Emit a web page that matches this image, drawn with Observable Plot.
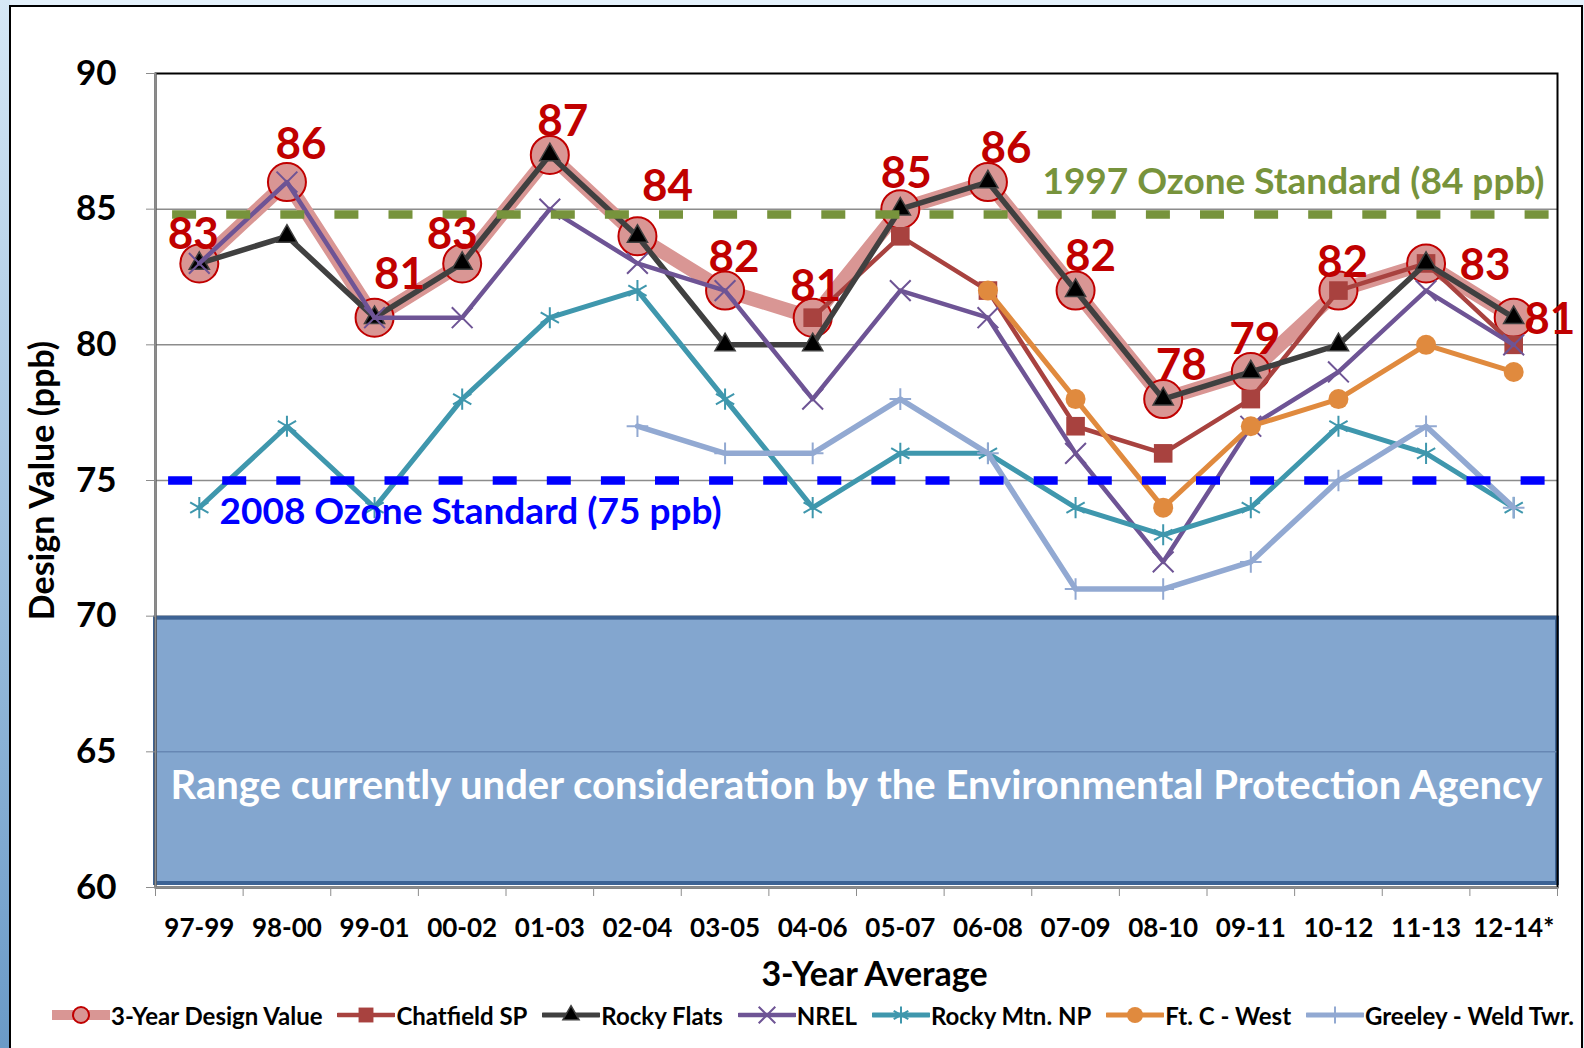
<!DOCTYPE html>
<html>
<head>
<meta charset="utf-8">
<script src="https://cdn.jsdelivr.net/npm/d3@7"></script>
<script src="https://cdn.jsdelivr.net/npm/@observablehq/plot@0.6"></script>
<style>
  html, body { margin: 0; padding: 0; }
  body { width: 1584px; height: 1048px; overflow: hidden; position: relative; background: #e4f1fb; font-family: Lato, "Open Sans", sans-serif; }
  #strip { position: absolute; left: 0; top: 0; width: 10px; height: 1048px; background: linear-gradient(#d6e8f6, #6a9ac7); }
  #panel { position: absolute; left: 9px; top: 5px; width: 1570px; height: 1100px; border: 2px solid #000; background: #fff; }
  #chart { position: absolute; left: 0; top: 0; }
  #legend { position: absolute; left: 52px; width: 1522px; top: 1002px; height: 26px; display: flex; justify-content: space-between; align-items: center; font-weight: bold; font-size: 24px; color: #000; white-space: nowrap; }
  #legend .item { display: flex; align-items: center; }
  #legend svg { display: block; margin-right: 1px; }
</style>
</head>
<body>
<div id="strip"></div>
<div id="panel"></div>
<div id="chart"></div>
<div id="legend"></div>
<script>
// ---- data ----
const categories = ["97-99","98-00","99-01","00-02","01-03","02-04","03-05","04-06","05-07","06-08","07-09","08-10","09-11","10-12","11-13","12-14*"];
const designValue = [83,86,81,83,87,84,82,81,85,86,82,78,79,82,83,81];
const chatfield   = [null,null,null,null,null,null,null,81,84,82,77,76,78,82,83,80];
const rockyFlats  = [83,84,81,83,87,84,80,80,85,86,82,78,79,80,83,81];
const nrel        = [83,86,81,81,85,83,82,78,82,81,76,72,77,79,82,80];
const rockyMtnNP  = [74,77,74,78,81,82,78,74,76,76,74,73,74,77,76,74];
const ftcWest     = [null,null,null,null,null,null,null,null,null,82,78,74,77,78,80,79];
const greeley     = [null,null,null,null,null,77,76,76,78,76,71,71,72,75,77,74];
const seriesNames = ["3-Year Design Value","Chatfield SP","Rocky Flats","NREL","Rocky Mtn. NP","Ft. C - West","Greeley - Weld Twr."];
const yTicks = [60,65,70,75,80,85,90];
const epaRange = [60,70];
const epaLabel = "Range currently under consideration by the Environmental Protection Agency";
const standardValues = [84.8, 75];
const standardLabels = ["1997 Ozone Standard (84 ppb)", "2008 Ozone Standard (75 ppb)"];
const xTitle = "3-Year Average";
const yTitle = "Design Value (ppb)";

// ---- styles ----
const styles = [
  {color:"#d99694", width:14, symbol:"circle",   r:19,  fill:"#d99694", stroke:"#c00000", sw:2},
  {color:"#a8423f", width:4.5, symbol:"square",  r:10.5, fill:"#a8423f", stroke:"#a8423f", sw:0},
  {color:"#404040", width:5.5, symbol:"triangle", r:7.5, fill:"#000",    stroke:"#404040", sw:1.5},
  {color:"#6e5495", width:4.5, symbol:"times",    r:9.5, fill:"none",    stroke:"#6e5495", sw:2},
  {color:"#3f97ad", width:5,   symbol:"asterisk", r:10,  fill:"none",    stroke:"#3f97ad", sw:2},
  {color:"#e08a3e", width:5,   symbol:"circle",   r:10,  fill:"#e08a3e", stroke:"#e08a3e", sw:0},
  {color:"#92a9d2", width:5.5, symbol:"plus",     r:7,   fill:"none",    stroke:"#92a9d2", sw:2}
];
const seriesValues = [designValue, chatfield, rockyFlats, nrel, rockyMtnNP, ftcWest, greeley];
const labelOffsets = [[-6,-29],[14,-37],[25,-43],[-10,-29],[13,-33],[30,-49],[9,-33],[3,-31],[6,-35],[18,-33],[15,-34],[18,-33],[4,-32],[4,-28],[59,2],[36,2]];

const xDomain = [-0.5, categories.length - 0.5];
const seriesData = seriesValues.map((vals, k) =>
  vals.map((v, i) => ({i, v, k})).filter(d => d.v != null));

const seriesMarks = seriesData.flatMap((data, k) => {
  const s = styles[k];
  return [
    Plot.line(data, {x: "i", y: "v", stroke: s.color, strokeWidth: s.width, strokeLinejoin: "round", strokeLinecap: "round"}),
    Plot.dot(data, {x: "i", y: "v", symbol: s.symbol, r: s.r, fill: s.fill, stroke: s.stroke, strokeWidth: s.sw})
  ];
});

const gray = "#8c8c8c";
const standardColors = ["#77933c", "#0000ff"];
const dashOffsets = [37, 41];

const chart = Plot.plot({
  width: 1584,
  height: 1000,
  marginLeft: 155,
  marginRight: 27,
  marginTop: 73,
  marginBottom: 113,
  x: {domain: xDomain},
  y: {domain: [yTicks[0], yTicks[yTicks.length - 1]]},
  style: {fontFamily: "Lato, 'Open Sans', sans-serif", background: "transparent", overflow: "visible"},
  marks: [
    Plot.ruleY(yTicks.slice(1, -1), {stroke: gray, strokeWidth: 1.5}),
    Plot.rect([epaRange], {x1: xDomain[0], x2: xDomain[1], y1: d => d[0], y2: d => d[1], fill: "#83a6cf", stroke: "#3d6394", strokeWidth: 4, insetBottom: 4, insetTop: 2}),
    Plot.ruleY([yTicks[1]], {stroke: "#6787b4", strokeWidth: 1.5}),
    Plot.frame({stroke: "#000", strokeWidth: 2}),
    Plot.ruleX([xDomain[0]], {stroke: gray, strokeWidth: 2}),
    Plot.ruleY([yTicks[0]], {stroke: gray, strokeWidth: 2}),
    Plot.axisY({ticks: yTicks, tickSize: 9, tickPadding: 30, fontSize: 35, fontWeight: "bold", stroke: gray, fill: "#000", label: null}),
    Plot.axisX({ticks: d3.range(categories.length + 1).map(i => i - 0.5), tickSize: 9, tickFormat: () => "", stroke: gray, label: null}),
    Plot.axisX({ticks: d3.range(categories.length), tickFormat: i => categories[i], tickSize: 0, tickPadding: 31, fontSize: 26, fontWeight: "bold", fill: "#000", label: null}),
    Plot.text([epaLabel], {y: (epaRange[0] + epaRange[1]) / 2, dy: 34, fill: "#fff", fontSize: 40, fontWeight: "bold"}),
    ...seriesMarks,
    ...standardValues.map((v, j) => Plot.ruleY([v], {stroke: standardColors[j], strokeWidth: 8.5, strokeDasharray: "24,30.1", strokeDashoffset: dashOffsets[j]})),
    Plot.text([standardLabels[0]], {x: xDomain[1], y: standardValues[0], dx: -13, dy: -32, textAnchor: "end", fill: standardColors[0], fontSize: 37, fontWeight: "bold"}),
    Plot.text([standardLabels[1]], {x: xDomain[0], y: standardValues[1], dx: 64, dy: 32, textAnchor: "start", fill: standardColors[1], fontSize: 37, fontWeight: "bold"}),
    ...designValue.map((v, i) => Plot.text([v], {x: i, y: v, text: d => String(d), dx: labelOffsets[i][0], dy: labelOffsets[i][1], fill: "#c00000", fontSize: 44, fontWeight: "bold"})),
    Plot.text([xTitle], {frameAnchor: "bottom", textAnchor: "middle", dx: 18, dy: 98, fontSize: 34, fontWeight: "bold", fill: "#000"}),
    Plot.text([yTitle], {frameAnchor: "left", textAnchor: "middle", dx: -112, rotate: -90, fontSize: 34, fontWeight: "bold", fill: "#000"})
  ]
});
document.getElementById("chart").appendChild(chart);

// ---- legend ----
const symbolMap = {circle: d3.symbolCircle, square: d3.symbolSquare, triangle: d3.symbolTriangle, times: d3.symbolTimes, asterisk: d3.symbolAsterisk, plus: d3.symbolPlus};
const legend = d3.select("#legend");
seriesNames.forEach((name, k) => {
  const s = styles[k];
  const item = legend.append("div").attr("class", "item");
  const svg = item.append("svg").attr("width", 58).attr("height", 24);
  svg.append("line").attr("x1", 1).attr("x2", 57).attr("y1", 12).attr("y2", 12)
    .attr("stroke", s.color).attr("stroke-width", k === 0 ? 10 : Math.min(s.width, 5)).attr("stroke-linecap", "round");
  const rr = k === 0 ? 8 : s.r * 0.8;
  svg.append("path").attr("transform", "translate(29,12)")
    .attr("d", d3.symbol(symbolMap[s.symbol], Math.PI * rr * rr)())
    .attr("fill", k === 0 ? "#d99694" : s.fill).attr("stroke", s.stroke).attr("stroke-width", s.sw || 0);
  item.append("span").text(name);
});
</script>
</body>
</html>
